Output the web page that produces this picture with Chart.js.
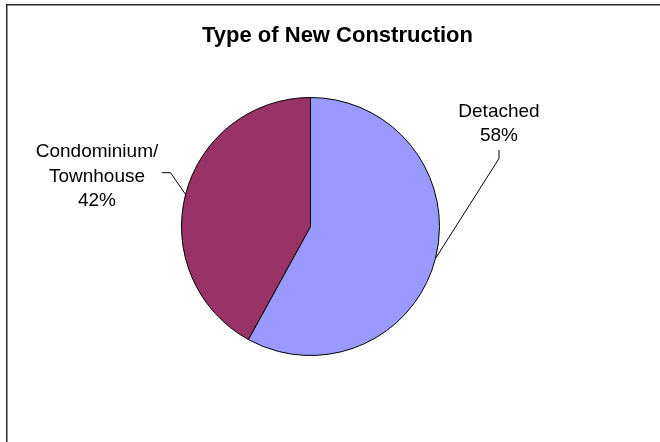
<!DOCTYPE html>
<html>
<head>
<meta charset="utf-8">
<script src="https://cdn.jsdelivr.net/npm/chart.js@4"></script>
<style>
  html, body { margin: 0; padding: 0; background: #fff; }
  #wrap { position: relative; width: 660px; height: 442px; }
</style>
</head>
<body>
<div id="wrap"><canvas id="chart"></canvas></div>
<script>
const categories = ["Detached", "Condominium/Townhouse"];
const labelLines = [["Detached"], ["Condominium/", "Townhouse"]];
const shares = [58, 42];
const chartTitle = "Type of New Construction";

const sliceColors = ["#9999FF", "#993366"];

// label anchor (centre x, first baseline) relative to pie centre,
// and the leader line points relative to that anchor
const labelLayout = [
  { dx: 188.5, dy: -110, leader: [[0, 33.5], [0, 42]] },
  { dx: -213.5, dy: -69.5, leader: [[65, 15.7], [73.5, 15.7]] },
];

const FONT = '"Liberation Sans", Arial, sans-serif';

const decorations = {
  id: "decorations",
  beforeDraw(chart) {
    const ctx = chart.ctx;
    ctx.save();
    // outer chart frame (right and bottom run off the picture)
    ctx.fillStyle = "#2b2b2b";
    ctx.fillRect(6, 4, 1.5, 438);
    ctx.fillRect(6, 4, 654, 1.5);
    ctx.restore();
  },
  afterDraw(chart) {
    const ctx = chart.ctx;
    const arcs = chart.getDatasetMeta(0).data;
    const total = shares.reduce((a, b) => a + b, 0);
    ctx.save();

    // title
    ctx.fillStyle = "#000";
    ctx.textAlign = "center";
    ctx.textBaseline = "alphabetic";
    ctx.font = "bold 22px " + FONT;
    ctx.fillText(chartTitle, 337.5, 42);

    ctx.font = "19px " + FONT;
    arcs.forEach((arc, i) => {
      const p = arc.getProps(["x", "y", "startAngle", "endAngle", "outerRadius"], true);
      const lay = labelLayout[i];
      const ax = p.x + lay.dx;
      const ay = p.y + lay.dy;
      const lines = labelLines[i].concat([Math.round((shares[i] / total) * 100) + "%"]);
      lines.forEach((t, k) => ctx.fillText(t, ax, ay + k * 24.5));

      // leader line to middle of the slice edge
      const mid = (p.startAngle + p.endAngle) / 2;
      const ex = p.x + Math.cos(mid) * p.outerRadius;
      const ey = p.y + Math.sin(mid) * p.outerRadius;
      ctx.beginPath();
      ctx.strokeStyle = "#000";
      ctx.lineWidth = 1;
      ctx.moveTo(ax + lay.leader[0][0], ay + lay.leader[0][1]);
      ctx.lineTo(ax + lay.leader[1][0], ay + lay.leader[1][1]);
      ctx.lineTo(ex, ey);
      ctx.stroke();
    });
    ctx.restore();
  },
};

new Chart(document.getElementById("chart"), {
  type: "pie",
  data: {
    labels: categories,
    datasets: [
      {
        data: shares,
        backgroundColor: sliceColors,
        borderColor: "#000",
        borderWidth: 1,
      },
    ],
  },
  options: {
    responsive: true,
    maintainAspectRatio: false,
    animation: false,
    radius: 129,
    layout: { padding: { left: 0, right: 39, top: 11, bottom: 0 } },
    plugins: {
      legend: { display: false },
      title: { display: false },
      tooltip: { enabled: false },
    },
  },
  plugins: [decorations],
});
</script>
</body>
</html>
